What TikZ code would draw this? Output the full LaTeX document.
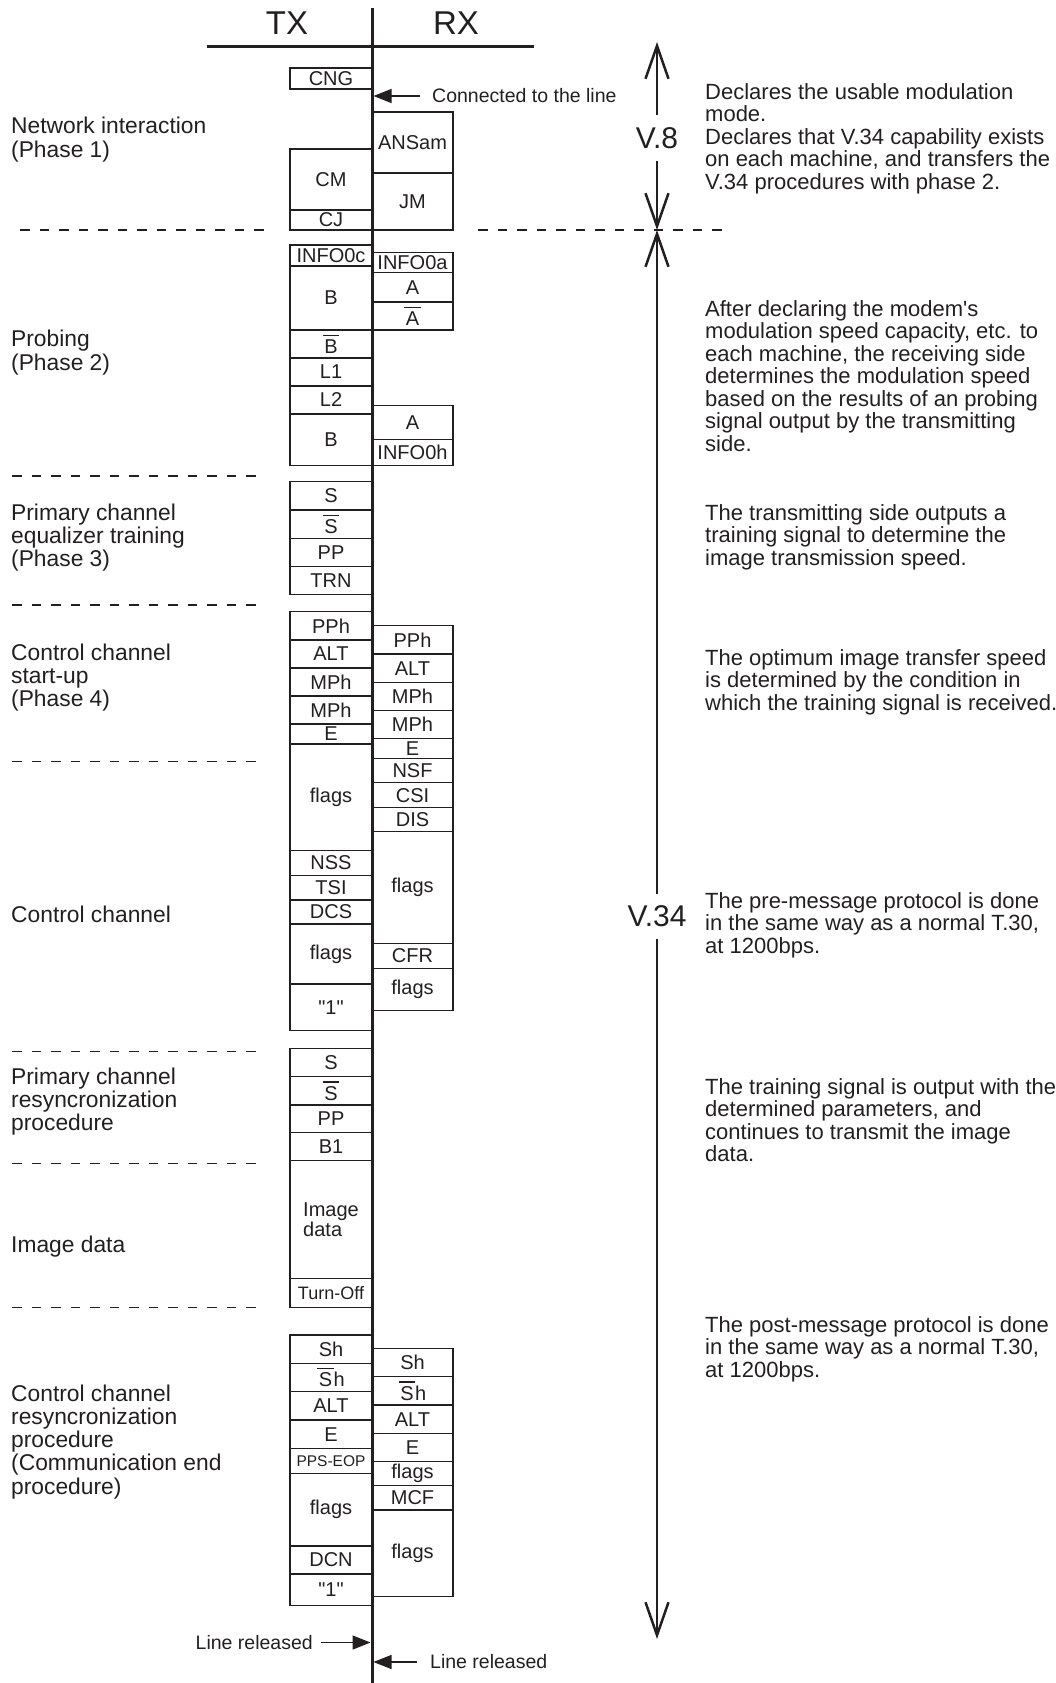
\documentclass[tikz,border=0pt]{standalone}
\usepackage{fontspec}
\setmainfont{Liberation Sans}
\usetikzlibrary{positioning,arrows.meta}
\definecolor{ink}{HTML}{231F20}
\newcommand{\sigfont}{\fontsize{20}{22}\selectfont}
\newcommand{\phasefont}{\fontsize{22.8}{23.3}\selectfont}
\newcommand{\notefont}{\fontsize{22}{22.5}\selectfont}
\newcommand{\headfont}{\fontsize{33}{36}\selectfont}
\newcommand{\protofont}{\fontsize{30}{32}\selectfont}
\newcommand{\callfont}{\fontsize{19.5}{22}\selectfont}
\newcommand{\ovl}[1]{\vbox{\hrule height 1.3pt\kern 3.5pt\hbox{\kern1.5pt#1\kern1.5pt}}}
\newcommand{\one}{\textquotedbl 1\textquotedbl}
\tikzset{
  every node/.style={text=ink},
  sigbox/.style={
    draw=ink, line width=1.3pt,
    inner sep=0pt, outer sep=0pt,
    font=\sigfont, align=center
  },
  txbox/.style={sigbox, minimum width=82pt},
  rxbox/.style={sigbox, minimum width=81pt},
  phase/.style={anchor=base west, inner sep=0pt, font=\phasefont, align=left},
  note/.style={anchor=base west, inner sep=0pt, font=\notefont, align=left},
  callout/.style={inner sep=0pt, font=\callfont},
  proto/.style={font=\protofont, inner xsep=0pt, inner ysep=12pt},
  sepline/.style={draw=ink, line width=1.3pt, dash pattern=on 9.5pt off 10pt},
  pointer/.style={
    -{Triangle[length=18pt,width=14pt]},
    line width=1.3pt, draw=ink
  },
  span/.style={
    -{Straight Barb[length=33pt,width=23pt]},
    line width=2.5pt, draw=ink
  },
}

\begin{document}
\begin{tikzpicture}[x=1pt, y=-1pt]
  \useasboundingbox (0,0) rectangle (1056,1683);
  \coordinate (axtop) at (372,8);
  \coordinate (axbot) at (372,1683);
  \node[font=\headfont] (tx) at (287,23) {TX};
  \node[font=\headfont] (rx) at (456,23) {RX};
  \draw[line width=3pt, draw=ink] (207,46.7) -- (534,46.7);

  \node[txbox, minimum height=21, anchor=north west] (cng) at (290,68) {CNG};
  \node[txbox, minimum height=61, anchor=north west] (cm) at (290,149) {CM};
  \node[txbox, minimum height=20, below=0pt of cm] (cj) {CJ};
  \node[rxbox, minimum height=61, anchor=north west] (ansam) at (372,112) {ANSam};
  \node[rxbox, minimum height=57, below=0pt of ansam] (jm) {JM};

  \node[txbox, minimum height=21, anchor=north west] (info0c) at (290,245) {INFO0c};
  \node[txbox, minimum height=64, below=0pt of info0c] (bA) {B};
  \node[txbox, minimum height=28, below=0pt of bA] (bbar) {\ovl{B}};
  \node[txbox, minimum height=28, below=0pt of bbar] (lone) {L1};
  \node[txbox, minimum height=28, below=0pt of lone] (ltwo) {L2};
  \node[txbox, minimum height=51.3, below=0pt of ltwo] (bB) {B};
  \node[rxbox, minimum height=20, anchor=north west] (info0a) at (372,252.7) {INFO0a};
  \node[rxbox, minimum height=29.3, below=0pt of info0a] (aA) {A};
  \node[rxbox, minimum height=28, below=0pt of aA] (abar) {\ovl{A}};
  \node[rxbox, minimum height=33.6, anchor=north west] (aB) at (372,405.7) {A};
  \node[rxbox, minimum height=26, below=0pt of aB] (info0h) {INFO0h};

  \node[txbox, minimum height=28.3, anchor=north west] (sA) at (290,481.7) {S};
  \node[txbox, minimum height=28.3, below=0pt of sA] (sAbar) {\ovl{S}};
  \node[txbox, minimum height=28.4, below=0pt of sAbar] (ppA) {PP};
  \node[txbox, minimum height=28, below=0pt of ppA] (trn) {TRN};

  \node[txbox, minimum height=28.3, anchor=north west] (pphT) at (290,611.7) {PPh};
  \node[txbox, minimum height=28, below=0pt of pphT] (altT) {ALT};
  \node[txbox, minimum height=28, below=0pt of altT] (mphTa) {MPh};
  \node[txbox, minimum height=28, below=0pt of mphTa] (mphTb) {MPh};
  \node[txbox, minimum height=20, below=0pt of mphTb] (eT) {E};
  \node[txbox, minimum height=106.7, below=0pt of eT] (flagsTa) {flags};
  \node[txbox, minimum height=24.6, below=0pt of flagsTa] (nss) {NSS};
  \node[txbox, minimum height=24.7, below=0pt of nss] (tsi) {TSI};
  \node[txbox, minimum height=24, below=0pt of tsi] (dcs) {DCS};
  \node[txbox, minimum height=60, below=0pt of dcs] (flagsTb) {flags};
  \node[txbox, minimum height=46.7, below=0pt of flagsTb] (oneA) {\one};
  \node[rxbox, minimum height=28.3, anchor=north west] (pphR) at (372,625.7) {PPh};
  \node[rxbox, minimum height=28.3, below=0pt of pphR] (altR) {ALT};
  \node[rxbox, minimum height=28, below=0pt of altR] (mphRa) {MPh};
  \node[rxbox, minimum height=28, below=0pt of mphRa] (mphRb) {MPh};
  \node[rxbox, minimum height=20, below=0pt of mphRb] (eR) {E};
  \node[rxbox, minimum height=24.4, below=0pt of eR] (nsf) {NSF};
  \node[rxbox, minimum height=25, below=0pt of nsf] (csi) {CSI};
  \node[rxbox, minimum height=24, below=0pt of csi] (dis) {DIS};
  \node[rxbox, minimum height=111.6, below=0pt of dis] (flagsRa) {flags};
  \node[rxbox, minimum height=25.4, below=0pt of flagsRa] (cfr) {CFR};
  \node[rxbox, minimum height=42, below=0pt of cfr] (flagsRb) {flags};

  \node[txbox, minimum height=28.4, anchor=north west] (sB) at (290,1048.3) {S};
  \node[txbox, minimum height=28.3, below=0pt of sB] (sBbar) {\ovl{S}};
  \node[txbox, minimum height=27.7, below=0pt of sBbar] (ppB) {PP};
  \node[txbox, minimum height=28, below=0pt of ppB] (bone) {B1};
  \node[txbox, minimum height=118, below=0pt of bone, align=left, font=\fontsize{20}{18.5}\selectfont] (image) {Image\\data};
  \node[txbox, minimum height=28.6, below=0pt of image, font=\fontsize{18}{20}\selectfont] (turnoff) {Turn-Off};

  \node[txbox, minimum height=28.3, anchor=north west] (shT) at (290,1335) {Sh};
  \node[txbox, minimum height=28.4, below=0pt of shT] (shTbar) {\ovl{S}h};
  \node[txbox, minimum height=28.3, below=0pt of shTbar] (altTb) {ALT};
  \node[txbox, minimum height=28.3, below=0pt of altTb] (eTb) {E};
  \node[txbox, minimum height=25, below=0pt of eTb, font=\fontsize{15.5}{17}\selectfont] (ppseop) {PPS-EOP};
  \node[txbox, minimum height=72.7, below=0pt of ppseop] (flagsTc) {flags};
  \node[txbox, minimum height=28, below=0pt of flagsTc] (dcn) {DCN};
  \node[txbox, minimum height=31.7, below=0pt of dcn] (oneB) {\one};
  \node[rxbox, minimum height=28.4, anchor=north west] (shR) at (372,1348.3) {Sh};
  \node[rxbox, minimum height=28.3, below=0pt of shR] (shRbar) {\ovl{S}h};
  \node[rxbox, minimum height=28.3, below=0pt of shRbar] (altRb) {ALT};
  \node[rxbox, minimum height=28.4, below=0pt of altRb] (eRb) {E};
  \node[rxbox, minimum height=24, below=0pt of eRb] (flagsRc) {flags};
  \node[rxbox, minimum height=24.3, below=0pt of flagsRc] (mcf) {MCF};
  \node[rxbox, minimum height=86.7, below=0pt of mcf] (flagsRd) {flags};

  \draw[line width=3pt, draw=ink] (axtop) -- (axbot);

  \draw[sepline] (20,230) -- (265,230);
  \draw[sepline] (478,230) -- (723,230);
  \draw[sepline] (12,476) -- (258,476);
  \draw[sepline] (12,605) -- (258,605);
  \draw[sepline] (12,761.7) -- (258,761.7);
  \draw[sepline] (12,1051.7) -- (258,1051.7);
  \draw[sepline] (12,1163.3) -- (258,1163.3);
  \draw[sepline] (12,1307.3) -- (258,1307.3);

  \node[callout, anchor=west] (conn) at (432,96) {Connected to the line};
  \draw[pointer, shorten <=12pt, shorten >=1.5pt] (conn.west) -- (conn.west -| axtop);
  \node[callout, anchor=east] (relL) at (313,1642.5) {Line released};
  \draw[pointer, shorten <=8pt, shorten >=1.5pt] (relL.east) -- (relL.east -| axtop);
  \node[callout, anchor=west] (relR) at (430,1662) {Line released};
  \draw[pointer, shorten <=13pt, shorten >=1.5pt] (relR.west) -- (relR.west -| axtop);

  \node[proto] (v8) at (657,138) {V.8};
  \node[proto] (v34) at (657,916.5) {V.34};
  \coordinate (v8top) at (657,42);
  \coordinate (split) at (657,230);
  \coordinate (v34bot) at (657,1639);
  \draw[span] (v8) -- (v8top);
  \draw[span] (v8) -- (split);
  \draw[span] (v34) -- (split);
  \draw[span] (v34) -- (v34bot);

  \node[phase] (p1) at (11,157.3) {Network interaction\\(Phase 1)};
  \node[phase] (p2) at (11,370) {Probing\\(Phase 2)};
  \node[phase] (p3) at (11,566.6) {Primary channel\\equalizer training\\(Phase 3)};
  \node[phase] (p4) at (11,706.6) {Control channel\\start-up\\(Phase 4)};
  \node[phase] (p5) at (11,922.3) {Control channel};
  \node[phase] (p6) at (11,1130.6) {Primary channel\\resyncronization\\procedure};
  \node[phase] (p7) at (11,1252.7) {Image data};
  \node[phase] (p8) at (11,1494.2) {Control channel\\resyncronization\\procedure\\(Communication end\\procedure)};

  \node[note] (d1) at (705,189.3) {Declares the usable modulation\\mode.\\Declares that V.34 capability exists\\on each machine, and transfers the\\V.34 procedures with phase 2.};
  \node[note] (d2) at (705,451) {After declaring the modem\textquotesingle s\\modulation speed capacity, etc. to\\each machine, the receiving side\\determines the modulation speed\\based on the results of an probing\\signal output by the transmitting\\side.};
  \node[note] (d3) at (705,565) {The transmitting side outputs a\\training signal to determine the\\image transmission speed.};
  \node[note] (d4) at (705,710) {The optimum image transfer speed\\is determined by the condition in\\which the training signal is received.};
  \node[note] (d5) at (705,953.3) {The pre-message protocol is done\\in the same way as a normal T.30,\\at 1200bps.};
  \node[note] (d6) at (705,1161.5) {The training signal is output with the\\determined parameters, and\\continues to transmit the image\\data.};
  \node[note] (d7) at (705,1377) {The post-message protocol is done\\in the same way as a normal T.30,\\at 1200bps.};
\end{tikzpicture}
\end{document}
